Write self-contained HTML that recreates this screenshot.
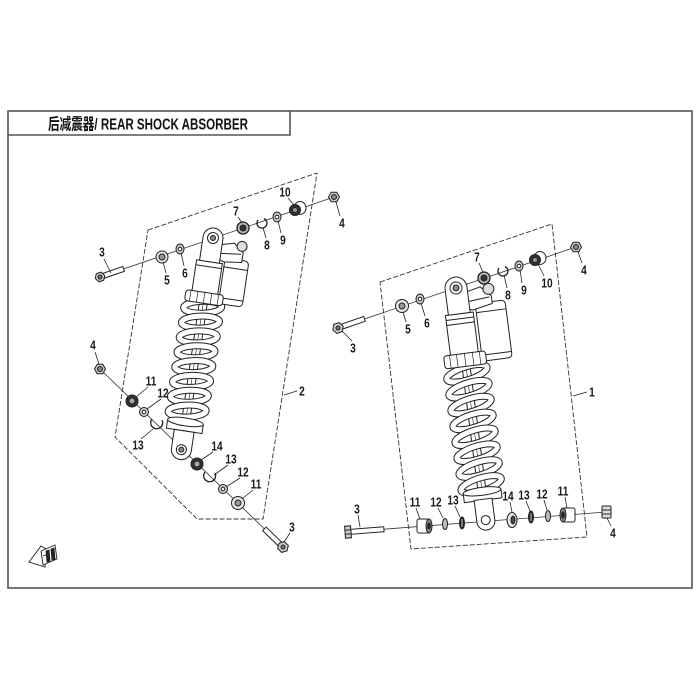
<!DOCTYPE html>
<html><head><meta charset="utf-8"><style>
html,body{margin:0;padding:0;background:#fff;width:700px;height:700px;overflow:hidden}
svg{display:block}
.l{font-family:"Liberation Sans","Noto Sans CJK SC",sans-serif;font-weight:bold;font-size:13px;fill:#1a1a1a;text-anchor:middle}
</style></head><body>
<svg width="700" height="700" viewBox="0 0 700 700" xmlns="http://www.w3.org/2000/svg">
<rect x="0" y="0" width="700" height="700" fill="#fff"/>
<!-- frame -->
<rect x="8" y="111" width="684" height="477" fill="none" stroke="#555" stroke-width="1.6"/>
<path d="M8,135 H290 V111" fill="none" stroke="#555" stroke-width="1.6"/>
<text x="48" y="129.5" textLength="200" lengthAdjust="spacingAndGlyphs" style="font-family:'Liberation Sans','Noto Sans CJK SC',sans-serif;font-weight:bold;font-size:16px;fill:#111">后减震器/ REAR SHOCK ABSORBER</text>

<!-- dashed polygons -->
<g fill="none" stroke="#333" stroke-width="0.9" stroke-dasharray="5,2">
<polygon points="148,230 317,173 263,519 197,519 115,437"/>
<polygon points="380,282 552,224 587,537 411,549"/>
</g>

<!-- axis lines -->
<g stroke="#333" stroke-width="0.8" fill="none">
<line x1="100" y1="277" x2="334" y2="197"/>
<line x1="100" y1="369" x2="283" y2="547"/>
<line x1="338" y1="328" x2="576" y2="247"/>
<line x1="348" y1="532" x2="606" y2="512"/>
</g>

<!-- LEFT SHOCK -->
<g transform="translate(213,238) rotate(8.5)" stroke="#222" stroke-width="1" fill="#fff">
 <rect x="-4" y="60" width="8" height="130"/>
 <line x1="0" y1="62" x2="0" y2="188" stroke-width="0.6"/>
 <g fill="none">
  <ellipse cx="0" cy="70" rx="19" ry="6" transform="rotate(-10 0 70)" stroke-width="7"/><ellipse cx="0" cy="70" rx="19" ry="6" transform="rotate(-10 0 70)" stroke="#fff" stroke-width="5"/>
  <ellipse cx="0" cy="85" rx="19" ry="6" transform="rotate(-10 0 85)" stroke-width="7"/><ellipse cx="0" cy="85" rx="19" ry="6" transform="rotate(-10 0 85)" stroke="#fff" stroke-width="5"/>
  <ellipse cx="0" cy="100" rx="19" ry="6" transform="rotate(-10 0 100)" stroke-width="7"/><ellipse cx="0" cy="100" rx="19" ry="6" transform="rotate(-10 0 100)" stroke="#fff" stroke-width="5"/>
  <ellipse cx="0" cy="115" rx="19" ry="6" transform="rotate(-10 0 115)" stroke-width="7"/><ellipse cx="0" cy="115" rx="19" ry="6" transform="rotate(-10 0 115)" stroke="#fff" stroke-width="5"/>
  <ellipse cx="0" cy="130" rx="19" ry="6" transform="rotate(-10 0 130)" stroke-width="7"/><ellipse cx="0" cy="130" rx="19" ry="6" transform="rotate(-10 0 130)" stroke="#fff" stroke-width="5"/>
  <ellipse cx="0" cy="145" rx="19" ry="6" transform="rotate(-10 0 145)" stroke-width="7"/><ellipse cx="0" cy="145" rx="19" ry="6" transform="rotate(-10 0 145)" stroke="#fff" stroke-width="5"/>
  <ellipse cx="0" cy="160" rx="19" ry="6" transform="rotate(-10 0 160)" stroke-width="7"/><ellipse cx="0" cy="160" rx="19" ry="6" transform="rotate(-10 0 160)" stroke="#fff" stroke-width="5"/>
  <ellipse cx="0" cy="175" rx="19" ry="6" transform="rotate(-10 0 175)" stroke-width="7"/><ellipse cx="0" cy="175" rx="19" ry="6" transform="rotate(-10 0 175)" stroke="#fff" stroke-width="5"/>
 </g>
 <path d="M-18,186 h36 v9 h-36 z"/>
 <ellipse cx="0" cy="186" rx="18" ry="4"/>
 <path d="M-10,195 V214 A10,10 0 0 0 10,214 V195 Z"/>
 <circle cx="0" cy="214" r="5"/><circle cx="0" cy="214" r="2.5" fill="#888"/>
 <rect x="15" y="18" width="24" height="46" rx="4"/>
 <line x1="15" y1="27" x2="39" y2="27"/>
 <line x1="15" y1="58" x2="39" y2="58"/>
 <path d="M6,6 L22,2 L32,10 L32,20 L14,22 L8,20 Z"/>
 <line x1="10" y1="14" x2="30" y2="12"/>
 <circle cx="30" cy="4" r="5" fill="#ddd"/>
 <rect x="-13" y="24" width="26" height="34"/>
 <line x1="-13" y1="29" x2="13" y2="29"/>
 <rect x="-19" y="55" width="38" height="11" rx="3"/>
 <path d="M-14,55 v11 M-7,55 v11 M0,55 v11 M7,55 v11 M14,55 v11" stroke-width="0.7"/>
 <path d="M-10,24 V0 A10,10 0 0 1 10,0 V24 Z"/>
 <circle cx="0" cy="0" r="5.5"/><circle cx="0" cy="0" r="2.5" fill="#888"/>
</g>

<!-- RIGHT SHOCK -->
<g transform="translate(456,288) rotate(-7.3)" stroke="#222" stroke-width="1" fill="#fff">
 <rect x="-4" y="70" width="8" height="150"/>
 <line x1="0" y1="72" x2="0" y2="215" stroke-width="0.6"/>
 <g fill="none">
  <ellipse cx="0" cy="86" rx="21" ry="6.5" transform="rotate(-10 0 86)" stroke-width="7"/><ellipse cx="0" cy="86" rx="21" ry="6.5" transform="rotate(-10 0 86)" stroke="#fff" stroke-width="5"/>
  <ellipse cx="0" cy="102" rx="21" ry="6.5" transform="rotate(-10 0 102)" stroke-width="7"/><ellipse cx="0" cy="102" rx="21" ry="6.5" transform="rotate(-10 0 102)" stroke="#fff" stroke-width="5"/>
  <ellipse cx="0" cy="118" rx="21" ry="6.5" transform="rotate(-10 0 118)" stroke-width="7"/><ellipse cx="0" cy="118" rx="21" ry="6.5" transform="rotate(-10 0 118)" stroke="#fff" stroke-width="5"/>
  <ellipse cx="0" cy="134" rx="21" ry="6.5" transform="rotate(-10 0 134)" stroke-width="7"/><ellipse cx="0" cy="134" rx="21" ry="6.5" transform="rotate(-10 0 134)" stroke="#fff" stroke-width="5"/>
  <ellipse cx="0" cy="150" rx="21" ry="6.5" transform="rotate(-10 0 150)" stroke-width="7"/><ellipse cx="0" cy="150" rx="21" ry="6.5" transform="rotate(-10 0 150)" stroke="#fff" stroke-width="5"/>
  <ellipse cx="0" cy="166" rx="21" ry="6.5" transform="rotate(-10 0 166)" stroke-width="7"/><ellipse cx="0" cy="166" rx="21" ry="6.5" transform="rotate(-10 0 166)" stroke="#fff" stroke-width="5"/>
  <ellipse cx="0" cy="182" rx="21" ry="6.5" transform="rotate(-10 0 182)" stroke-width="7"/><ellipse cx="0" cy="182" rx="21" ry="6.5" transform="rotate(-10 0 182)" stroke="#fff" stroke-width="5"/>
  <ellipse cx="0" cy="198" rx="21" ry="6.5" transform="rotate(-10 0 198)" stroke-width="7"/><ellipse cx="0" cy="198" rx="21" ry="6.5" transform="rotate(-10 0 198)" stroke="#fff" stroke-width="5"/>
 </g>
 <path d="M-19,205 h38 v9 h-38 z"/>
 <ellipse cx="0" cy="205" rx="19" ry="4"/>
 <path d="M-9,213 V235 A9,9 0 0 0 9,235 V213 Z"/>
 <circle cx="0" cy="234" r="4.5"/>
 <rect x="17" y="18" width="30" height="58" rx="4"/>
 <line x1="17" y1="27" x2="47" y2="27"/>
 <line x1="17" y1="70" x2="47" y2="70"/>
 <path d="M6,6 L24,2 L34,12 L34,20 L14,24 L8,22 Z"/>
 <line x1="10" y1="15" x2="32" y2="13"/>
 <circle cx="32" cy="5" r="5.5" fill="#ddd"/>
 <rect x="-14" y="26" width="28" height="42"/>
 <line x1="-14" y1="31" x2="14" y2="31"/>
 <line x1="-14" y1="36" x2="14" y2="36"/>
 <rect x="-21" y="66" width="42" height="13" rx="3"/>
 <path d="M-15,66 v13 M-8,66 v13 M0,66 v13 M8,66 v13 M15,66 v13" stroke-width="0.7"/>
 <path d="M-11,26 V0 A11,11 0 0 1 11,0 V26 Z"/>
 <circle cx="0" cy="0" r="6"/><circle cx="0" cy="0" r="3" fill="#888"/>
</g>

<!-- LEFT TOP PARTS -->
<g stroke="#222" stroke-width="1">
 <g transform="translate(100,277) rotate(-18.9)">
  <rect x="4" y="-2.5" width="21" height="5" fill="#fff"/>
  <polygon points="5,0 2.5,4.3 -2.5,4.3 -5,0 -2.5,-4.3 2.5,-4.3" fill="#ccc"/>
  <circle r="2" fill="#777"/>
 </g>
 <circle cx="162" cy="257" r="6" fill="#e6e6e6"/><circle cx="162" cy="257" r="3" fill="#999"/>
 <ellipse cx="180" cy="249" rx="4" ry="5" fill="#ccc"/><circle cx="180" cy="249" r="1.8" fill="#fff"/>
 <circle cx="243" cy="228" r="6" fill="#bbb" stroke-width="1.3"/><circle cx="243" cy="228" r="3" fill="#333"/>
 <path d="M258,220 A5,5 0 1 0 264,218.5" fill="none" stroke-width="1.3"/>
 <ellipse cx="277" cy="217" rx="4" ry="5" fill="#ccc"/><circle cx="277" cy="217" r="1.8" fill="#fff"/>
 <ellipse cx="300" cy="208" rx="6" ry="6.5" fill="#fff"/>
 <circle cx="295" cy="210" r="5.5" fill="#333"/><circle cx="295" cy="210" r="2.5" fill="#999"/>
 <polygon points="339.5,197 336.8,201.8 331.2,201.8 328.5,197 331.2,192.2 336.8,192.2" fill="#ccc"/><circle cx="334" cy="197" r="2.5" fill="#888"/>
</g>

<!-- LEFT BOTTOM PARTS -->
<g stroke="#222" stroke-width="1">
 <polygon points="105.5,369 102.8,373.8 97.2,373.8 94.5,369 97.2,364.2 102.8,364.2" fill="#ccc"/><circle cx="100" cy="369" r="2.5" fill="#888"/>
 <circle cx="132" cy="401" r="6" fill="#333"/><circle cx="132" cy="401" r="3" fill="#aaa"/>
 <circle cx="144" cy="412" r="4.5" fill="#ccc"/><circle cx="144" cy="412" r="1.8" fill="#fff"/>
 <path d="M152,419 A6,6 0 1 0 162,420" fill="none" stroke-width="1.3"/>
 <circle cx="197" cy="464" r="6" fill="#333"/><circle cx="197" cy="464" r="3" fill="#aaa"/>
 <path d="M205,472 A6,6 0 1 0 215,473" fill="none" stroke-width="1.3"/>
 <circle cx="223" cy="489" r="4.5" fill="#ccc"/><circle cx="223" cy="489" r="1.8" fill="#fff"/>
 <circle cx="238" cy="503" r="6.5" fill="#e6e6e6"/><circle cx="238" cy="503" r="3" fill="#999"/>
 <g transform="translate(283,547) rotate(224.2)">
  <rect x="4" y="-2.5" width="22" height="5" fill="#fff"/>
  <polygon points="5.5,0 2.8,4.8 -2.8,4.8 -5.5,0 -2.8,-4.8 2.8,-4.8" fill="#ccc"/>
  <circle r="2" fill="#777"/>
 </g>
</g>

<!-- RIGHT TOP PARTS -->
<g stroke="#222" stroke-width="1">
 <g transform="translate(338,328) rotate(-19)">
  <rect x="4" y="-2.5" width="24" height="5" fill="#fff"/>
  <polygon points="5.5,0 2.8,4.8 -2.8,4.8 -5.5,0 -2.8,-4.8 2.8,-4.8" fill="#ccc"/>
  <circle r="2" fill="#777"/>
 </g>
 <circle cx="402" cy="306" r="6.5" fill="#e6e6e6"/><circle cx="402" cy="306" r="3" fill="#999"/>
 <ellipse cx="420" cy="299" rx="4" ry="5" fill="#ccc"/><circle cx="420" cy="299" r="1.8" fill="#fff"/>
 <circle cx="484" cy="278" r="6" fill="#bbb" stroke-width="1.3"/><circle cx="484" cy="278" r="3" fill="#333"/>
 <path d="M499,268 A5,5 0 1 0 505,266.5" fill="none" stroke-width="1.3"/>
 <ellipse cx="519" cy="266" rx="4" ry="5" fill="#ccc"/><circle cx="519" cy="266" r="1.8" fill="#fff"/>
 <ellipse cx="540" cy="258" rx="6" ry="6.5" fill="#fff"/>
 <circle cx="535" cy="260" r="5.5" fill="#333"/><circle cx="535" cy="260" r="2.5" fill="#999"/>
 <polygon points="581.5,247 578.8,251.8 573.2,251.8 570.5,247 573.2,242.2 578.8,242.2" fill="#ccc"/><circle cx="576" cy="247" r="2.5" fill="#888"/>
</g>

<!-- RIGHT BOTTOM PARTS -->
<g stroke="#222" stroke-width="1">
 <g transform="translate(348,532) rotate(-4.4)">
  <rect x="3" y="-2.5" width="33" height="5" fill="#fff"/>
  <rect x="-3" y="-6" width="6" height="12" fill="#ccc"/>
  <line x1="-3" y1="-2" x2="3" y2="-2"/><line x1="-3" y1="2" x2="3" y2="2"/>
 </g>
 <rect x="417" y="519" width="12" height="14" rx="2" fill="#fff"/>
 <ellipse cx="429" cy="526" rx="3" ry="7" fill="#888"/><ellipse cx="429" cy="526" rx="1.3" ry="3" fill="#222"/>
 <ellipse cx="445" cy="524" rx="2.5" ry="5.5" fill="#bbb"/>
 <ellipse cx="462" cy="523" rx="2.5" ry="6" fill="#222"/><line x1="462" y1="519" x2="462" y2="527" stroke="#fff" stroke-width="0.8"/>
 <ellipse cx="512" cy="520" rx="5" ry="7.5" fill="#e6e6e6"/><ellipse cx="513" cy="520" rx="2" ry="4" fill="#444"/>
 <ellipse cx="531" cy="517" rx="2.5" ry="6" fill="#222"/><line x1="531" y1="513" x2="531" y2="521" stroke="#fff" stroke-width="0.8"/>
 <ellipse cx="548" cy="516" rx="2.5" ry="5.5" fill="#bbb"/>
 <rect x="563" y="508" width="12" height="14" rx="2" fill="#fff"/>
 <ellipse cx="563" cy="515" rx="3" ry="7" fill="#888"/><ellipse cx="563" cy="515" rx="1.3" ry="3" fill="#222"/>
 <rect x="602" y="506" width="9" height="12" rx="1" fill="#ddd"/>
 <line x1="602" y1="510" x2="611" y2="510"/><line x1="602" y1="514" x2="611" y2="514"/>
</g>

<!-- leader lines -->
<g stroke="#222" stroke-width="0.8" fill="none">
 <line x1="104" y1="259" x2="111" y2="273"/>
 <line x1="166" y1="273" x2="163" y2="262"/>
 <line x1="184" y1="266" x2="181" y2="253"/>
 <line x1="238" y1="217" x2="242" y2="223"/>
 <line x1="266" y1="238" x2="263" y2="228"/>
 <line x1="281" y1="233" x2="278" y2="221"/>
 <line x1="288" y1="198" x2="294" y2="205"/>
 <line x1="340" y1="216" x2="336" y2="202"/>
 <line x1="284" y1="395" x2="297" y2="391"/>
 <line x1="95" y1="352" x2="99" y2="364"/>
 <line x1="148" y1="387" x2="136" y2="397"/>
 <line x1="161" y1="399" x2="147" y2="409"/>
 <line x1="141" y1="439" x2="153" y2="429"/>
 <line x1="213" y1="452" x2="201" y2="460"/>
 <line x1="228" y1="465" x2="214" y2="475"/>
 <line x1="240" y1="478" x2="226" y2="487"/>
 <line x1="253" y1="490" x2="242" y2="499"/>
 <line x1="290" y1="533" x2="284" y2="542"/>
 <line x1="352" y1="341" x2="342" y2="331"/>
 <line x1="406" y1="322" x2="403" y2="312"/>
 <line x1="425" y1="316" x2="421" y2="303"/>
 <line x1="479" y1="263" x2="483" y2="272"/>
 <line x1="507" y1="288" x2="504" y2="275"/>
 <line x1="522" y1="283" x2="520" y2="270"/>
 <line x1="544" y1="276" x2="538" y2="264"/>
 <line x1="582" y1="263" x2="578" y2="252"/>
 <line x1="573" y1="396" x2="587" y2="392"/>
 <line x1="358" y1="515" x2="360" y2="527"/>
 <line x1="416" y1="508" x2="420" y2="519"/>
 <line x1="438" y1="508" x2="443" y2="518"/>
 <line x1="455" y1="506" x2="460" y2="517"/>
 <line x1="510" y1="502" x2="512" y2="512"/>
 <line x1="526" y1="501" x2="530" y2="511"/>
 <line x1="544" y1="500" x2="547" y2="510"/>
 <line x1="565" y1="497" x2="567" y2="508"/>
 <line x1="611" y1="526" x2="607" y2="518"/>
</g>

<!-- labels -->
<g class="l">
 <text transform="translate(102,256.5) scale(.78,1)">3</text>
 <text transform="translate(167,284.5) scale(.78,1)">5</text>
 <text transform="translate(185,277.5) scale(.78,1)">6</text>
 <text transform="translate(236,215.5) scale(.78,1)">7</text>
 <text transform="translate(267,249.5) scale(.78,1)">8</text>
 <text transform="translate(283,244.5) scale(.78,1)">9</text>
 <text transform="translate(285,196.5) scale(.78,1)">10</text>
 <text transform="translate(342,227.5) scale(.78,1)">4</text>
 <text transform="translate(302,395.5) scale(.78,1)">2</text>
 <text transform="translate(93,349.5) scale(.78,1)">4</text>
 <text transform="translate(151,385.5) scale(.78,1)">11</text>
 <text transform="translate(163,397.5) scale(.78,1)">12</text>
 <text transform="translate(138,449.5) scale(.78,1)">13</text>
 <text transform="translate(217,450.5) scale(.78,1)">14</text>
 <text transform="translate(231,463.5) scale(.78,1)">13</text>
 <text transform="translate(243,476.5) scale(.78,1)">12</text>
 <text transform="translate(256,488.5) scale(.78,1)">11</text>
 <text transform="translate(292,531.5) scale(.78,1)">3</text>
 <text transform="translate(353,352.5) scale(.78,1)">3</text>
 <text transform="translate(408,333.5) scale(.78,1)">5</text>
 <text transform="translate(427,327.5) scale(.78,1)">6</text>
 <text transform="translate(477,261.5) scale(.78,1)">7</text>
 <text transform="translate(508,299.5) scale(.78,1)">8</text>
 <text transform="translate(524,294.5) scale(.78,1)">9</text>
 <text transform="translate(547,287.5) scale(.78,1)">10</text>
 <text transform="translate(584,274.5) scale(.78,1)">4</text>
 <text transform="translate(592,396.5) scale(.78,1)">1</text>
 <text transform="translate(357,513.5) scale(.78,1)">3</text>
 <text transform="translate(415,506.5) scale(.78,1)">11</text>
 <text transform="translate(436,506.5) scale(.78,1)">12</text>
 <text transform="translate(453,504.5) scale(.78,1)">13</text>
 <text transform="translate(508,500.5) scale(.78,1)">14</text>
 <text transform="translate(524,499.5) scale(.78,1)">13</text>
 <text transform="translate(542,498.5) scale(.78,1)">12</text>
 <text transform="translate(563,495.5) scale(.78,1)">11</text>
 <text transform="translate(613,537.5) scale(.78,1)">4</text>
</g>

<!-- direction icon -->
<g stroke="#222" stroke-width="0.9" fill="#fff">
 <polygon points="29,562 41,546 46,549 45,567"/>
 <polygon points="41,551 55,545 57,559 43,565"/>
 <polygon points="46,551 49,550 50,561 47,562" fill="#222"/>
 <polygon points="51,549 54,548 55,559 52,560" fill="#222"/>
 <line x1="43" y1="556" x2="46" y2="555"/>
</g>
</svg>
</body></html>
